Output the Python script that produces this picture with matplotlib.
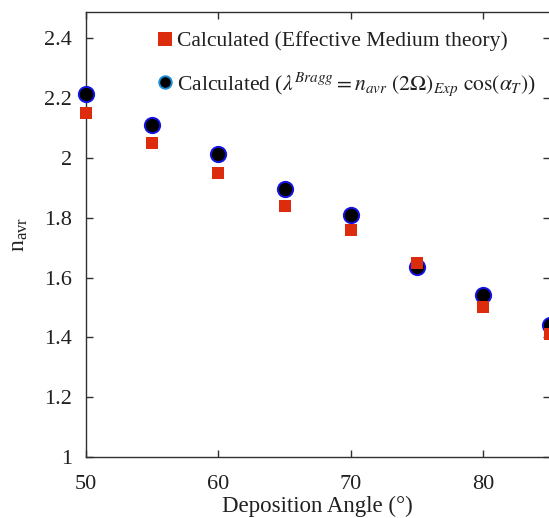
import matplotlib
matplotlib.use('Agg')
import matplotlib.pyplot as plt

plt.rcParams.update({
    'font.family': ['Liberation Serif', 'DejaVu Serif'],
    'mathtext.fontset': 'stix',
    'axes.linewidth': 1.0,
    'axes.edgecolor': '#303030',
    'xtick.color': '#303030',
    'ytick.color': '#303030',
})

# deposition angles (deg) and average refractive index
angles = [50, 55, 60, 65, 70, 75, 80, 85]
n_ema = [2.15, 2.05, 1.95, 1.84, 1.76, 1.65, 1.50, 1.41]
n_bragg = [2.215, 2.11, 2.015, 1.895, 1.81, 1.635, 1.54, 1.44]

xticks = [50, 60, 70, 80]
yticks = [1, 1.2, 1.4, 1.6, 1.8, 2, 2.2, 2.4]
ytick_labels = ['1', '1.2', '1.4', '1.6', '1.8', '2', '2.2', '2.4']

red = '#dd2b0e'
blue = '#1414e6'

fig = plt.figure(figsize=(5.49, 5.18), dpi=100)
ax = fig.add_axes([0.1563, 0.118, 0.8448, 0.8597])

ax.plot(angles, n_bragg, ls='none', marker='o', ms=11, mfc='black',
        mec=blue, mew=1.4, clip_on=False, zorder=3,
        label=r'Calculated ($\lambda^{Bragg}=n_{avr}\ (2\Omega)_{Exp}\ \cos(\alpha_T)$)')
ax.plot(angles, n_ema, ls='none', marker='s', ms=8, mfc=red, mec=red,
        mew=0, clip_on=False, zorder=4, label='Calculated (Effective Medium theory)')

ax.set_xlim(50, 85)
ax.set_ylim(1, 2.49)
ax.set_xticks(xticks)
ax.set_yticks(yticks)
ax.set_yticklabels(ytick_labels)
ax.tick_params(direction='in', length=5, width=1.0, top=True, right=True,
               labelsize=16, labelcolor='#202020')
ax.tick_params(axis='x', pad=13)
ax.tick_params(axis='y', pad=10)

ax.set_xlabel('Deposition Angle (°)', fontsize=16.5, color='#202020', labelpad=1)
ax.set_ylabel(r'n$_{\mathregular{avr}}$', fontsize=17, color='#202020', labelpad=10)

h, l = ax.get_legend_handles_labels()
leg = ax.legend(h[::-1], l[::-1], loc='upper left', bbox_to_anchor=(0.12, 0.995),
                frameon=False, fontsize=15.6, numpoints=1, handlelength=0.55,
                handletextpad=0.3, labelspacing=0.85, borderaxespad=0.4)
leg.legend_handles[1].set_markersize(9)
leg.legend_handles[1].set_markeredgecolor('#1c8fd6')
leg.legend_handles[0].set_markersize(10)
for t in leg.get_texts():
    t.set_color('#202020')

fig.savefig('out.png', dpi=100)
